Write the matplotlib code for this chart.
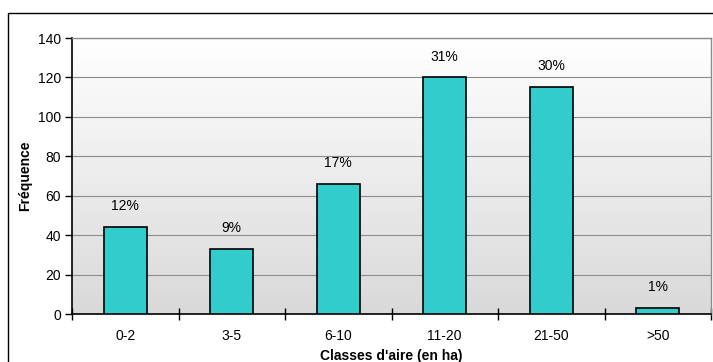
import numpy as np
import matplotlib
matplotlib.use("Agg")
import matplotlib.pyplot as plt
from matplotlib.patches import Rectangle

plt.rcParams['font.family'] = ['Liberation Sans', 'DejaVu Sans']

categories = ["0-2", "3-5", "6-10", "11-20", "21-50", ">50"]
frequencies = [44, 33, 66, 120, 115, 3]
percent_labels = ["12%", "9%", "17%", "31%", "30%", "1%"]

W, H = 713, 362
fig = plt.figure(figsize=(W / 100, H / 100), dpi=100)
fig.patch.set_facecolor("white")

# outer chart frame
fig.add_artist(Rectangle((8 / W, -0.05), 1.2, (H - 13) / H + 0.05,
                         transform=fig.transFigure, fill=False,
                         edgecolor="black", linewidth=1.0))

left, right, top, bottom = 72, 711, 38, 314
ax = fig.add_axes([left / W, 1 - bottom / H, (right - left) / W, (bottom - top) / H])

x = np.arange(len(categories))

# vertical gradient background: white at the top, light grey at the bottom
grad = np.linspace(0, 1, 256).reshape(-1, 1)
ax.imshow(grad, cmap=matplotlib.colors.LinearSegmentedColormap.from_list(
    "bg", ["#ffffff", "#d9d9d9"]), aspect="auto", origin="upper",
    extent=(-0.5, len(categories) - 0.5, 0, 140), zorder=0)
ax.set_xlim(-0.5, len(categories) - 0.5)
ax.set_ylim(0, 140)

ax.set_yticks(range(0, 141, 20))
ax.yaxis.grid(True, color="#8c8c8c", linewidth=0.8)
ax.set_axisbelow(True)

ax.bar(x, frequencies, width=0.4, color="#33cccc", edgecolor="black",
       linewidth=1.2, zorder=3)

for xi, v, lab in zip(x, frequencies, percent_labels):
    ax.annotate(lab, (xi, v), xytext=(0, 10), textcoords="offset points",
                ha="center", va="bottom", fontsize=10, zorder=4)

ax.set_xticks(x)
ax.set_xticklabels(categories, fontsize=10)
ax.set_xticks(np.arange(-0.5, len(categories) + 0.5, 1), minor=True)
ax.tick_params(axis="x", which="major", length=0, pad=11)
ax.tick_params(axis="x", which="minor", length=8, direction="inout", width=1)
ax.tick_params(axis="y", length=5, width=1, labelsize=10, pad=3)

for s in ["top", "right"]:
    ax.spines[s].set_color("#8c8c8c")
    ax.spines[s].set_linewidth(1.0)
for s in ["left", "bottom"]:
    ax.spines[s].set_color("black")
    ax.spines[s].set_linewidth(1.2)

ax.set_ylabel("Fréquence", fontsize=10, fontweight="bold", labelpad=4)
ax.set_xlabel("Classes d'aire (en ha)", fontsize=10, fontweight="bold", labelpad=4)

fig.savefig("out.png", dpi=100)
